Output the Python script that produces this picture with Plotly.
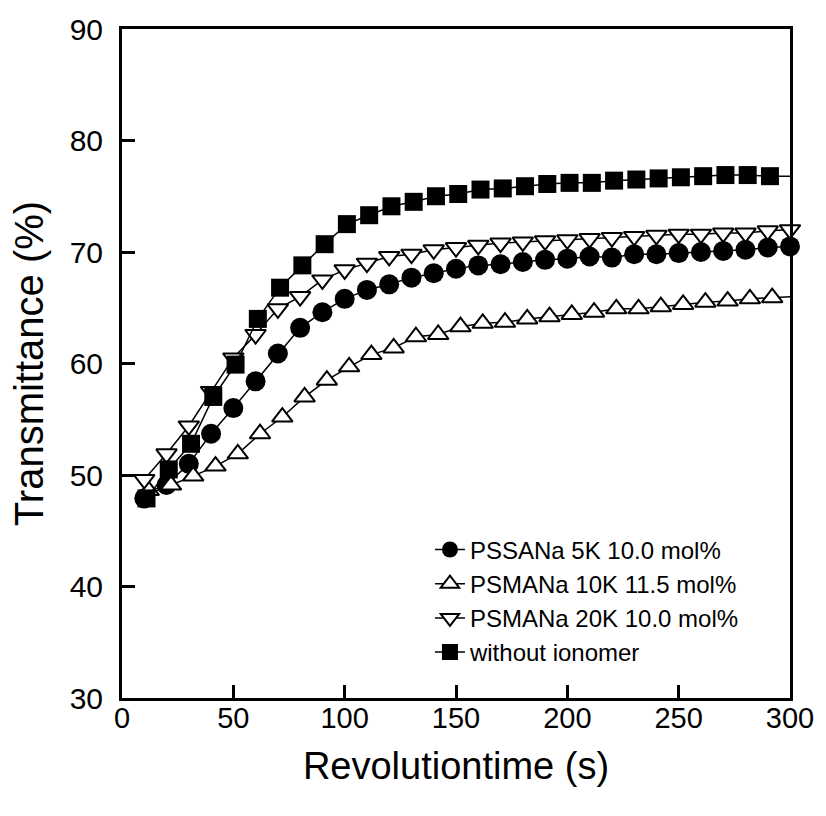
import plotly.graph_objects as go

# ---- data ----
time_pssana5k = [10, 20, 30, 40, 50, 60, 70, 80, 90, 100, 110, 120, 130, 140, 150,
                 160, 170, 180, 190, 200, 210, 220, 230, 240, 250, 260, 270, 280, 290, 300]
trans_pssana5k = [47.9, 49.1, 51.0, 53.7, 56.0, 58.4, 60.9, 63.2, 64.6, 65.8, 66.6, 67.1, 67.7, 68.1, 68.5,
                  68.8, 68.9, 69.1, 69.3, 69.4, 69.6, 69.5, 69.8, 69.8, 69.9, 70.0, 70.1, 70.2, 70.4, 70.5]

time_psmana10k = [12, 22, 32, 42, 52, 62, 72, 82, 92, 102, 112, 122, 132, 142, 152,
                  162, 172, 182, 192, 202, 212, 222, 232, 242, 252, 262, 272, 282, 292, 302]
trans_psmana10k = [48.6, 49.1, 49.9, 50.8, 51.9, 53.7, 55.2, 57.0, 58.5, 59.7, 60.8, 61.4, 62.4, 62.6, 63.3,
                   63.6, 63.7, 64.0, 64.2, 64.4, 64.6, 64.9, 64.9, 65.1, 65.3, 65.5, 65.6, 65.8, 65.9, 66.0]

time_psmana20k = [10, 20, 30, 40, 50, 60, 70, 80, 90, 100, 110, 120, 130, 140, 150,
                  160, 170, 180, 190, 200, 210, 220, 230, 240, 250, 260, 270, 280, 290, 300]
trans_psmana20k = [49.6, 51.9, 54.4, 57.5, 60.5, 62.6, 64.9, 66.0, 67.5, 68.4, 69.0, 69.6, 69.8, 70.2, 70.4,
                   70.6, 70.8, 70.9, 71.0, 71.1, 71.2, 71.3, 71.4, 71.5, 71.6, 71.6, 71.7, 71.7, 71.9, 72.0]

time_none = [11, 21, 31, 41, 51, 61, 71, 81, 91, 101, 111, 121, 131, 141, 151,
             161, 171, 181, 191, 201, 211, 221, 231, 241, 251, 261, 271, 281, 291, 301]
trans_none = [47.9, 50.5, 52.8, 57.0, 59.9, 64.0, 66.8, 68.8, 70.7, 72.5, 73.3, 74.1, 74.5, 75.0, 75.2,
              75.6, 75.7, 75.9, 76.1, 76.2, 76.2, 76.4, 76.5, 76.6, 76.7, 76.8, 76.9, 76.9, 76.8, 76.8]

series_names = ["PSSANa 5K 10.0 mol%", "PSMANa 10K 11.5 mol%",
                "PSMANa 20K 10.0 mol%", "without ionomer"]

x_range = [0, 300]
y_range = [30, 90]

FONT = "Liberation Sans, Arial, sans-serif"

styles = [
    dict(symbol="circle", size=20, color="black", line=dict(color="black", width=0)),
    dict(symbol="triangle-up", size=18, color="white", line=dict(color="black", width=2)),
    dict(symbol="triangle-down", size=18, color="white", line=dict(color="black", width=2)),
    dict(symbol="square", size=18, color="black", line=dict(color="black", width=0)),
]

fig = go.Figure()
for name, xs, ys, st in zip(series_names,
                            [time_pssana5k, time_psmana10k, time_psmana20k, time_none],
                            [trans_pssana5k, trans_psmana10k, trans_psmana20k, trans_none],
                            styles):
    # markers outside the axis range are not drawn (line still runs to the frame)
    sizes = [st["size"] if x <= x_range[1] else 0 for x in xs]
    fig.add_trace(go.Scatter(
        x=xs, y=ys, name=name, mode="lines+markers",
        line=dict(color="black", width=1.5),
        marker=dict(symbol=st["symbol"], size=sizes, color=st["color"], line=st["line"],
                    opacity=1),
        cliponaxis=False,
    ))

axis_common = dict(
    showline=True, linecolor="black", linewidth=3, mirror=True,
    ticks="inside", ticklen=13, tickwidth=2.5, tickcolor="black",
    showgrid=False, zeroline=False,
)

fig.update_xaxes(range=x_range, dtick=50, tick0=0,
                 tickfont=dict(family=FONT, size=29, color="black"),
                 ticklabelstandoff=-8,
                 title=dict(text="Revolutiontime (s)", font=dict(family=FONT, size=38, color="black"),
                            standoff=20),
                 **axis_common)
fig.update_yaxes(range=y_range, dtick=10, tick0=30,
                 tickfont=dict(family=FONT, size=30, color="black"),
                 ticklabelstandoff=10,
                 title=dict(text="Transmittance (%)", font=dict(family=FONT, size=40, color="black"),
                            standoff=14),
                 **axis_common)

fig.update_layout(
    width=826, height=816,
    margin=dict(l=122, r=31, t=27, b=118),
    paper_bgcolor="white", plot_bgcolor="white",
    font=dict(family=FONT, color="black"),
    showlegend=True,
    legend=dict(x=0.461, y=0.255, xanchor="left", yanchor="top",
                bgcolor="rgba(0,0,0,0)", borderwidth=0,
                font=dict(family=FONT, size=24, color="black"),
                tracegroupgap=0),
)

fig.write_html("out.html")
